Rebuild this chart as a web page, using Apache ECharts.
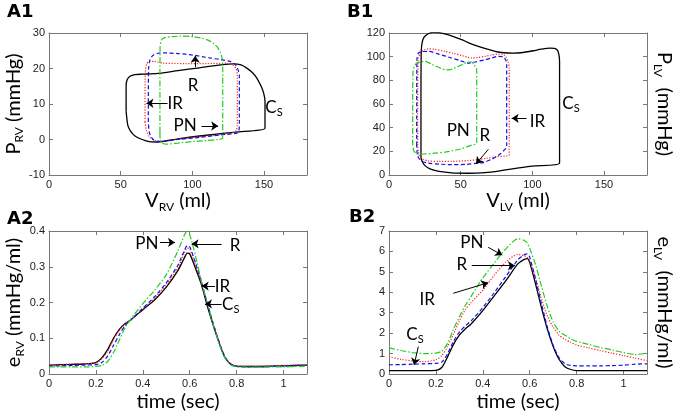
<!DOCTYPE html>
<html><head><meta charset="utf-8">
<script src="https://cdn.jsdelivr.net/npm/echarts/dist/echarts.min.js"></script>
<style>html,body{margin:0;padding:0;background:#fff}#c{width:685px;height:414px}</style>
</head><body><div id="c"></div><script>
// ---------- Panel A1 : RV pressure-volume loops ----------
const A1_CS_V = [53.8,53.8,54.5,56.5,60,65,76,90,105,120,128.6,134,138,142,145,148,149.8,150.7,150.7,150.7,130,110,90,76,70,65,60,57,55,53.8];
const A1_CS_P = [8,15,16.8,17.8,18.3,18.4,18.6,19.4,20.2,21,21.3,21,20.1,18.8,17.3,15,13,10.8,6,3.2,2.1,1.2,0.2,-0.7,-0.6,0,1,2.3,4,8];
const A1_R_V = [67,67,67.2,68.2,70,73,80,95,110,124,128,130.5,131.4,131.4,130.5,127.4,115,100,88,79.8,74,70,68,67];
const A1_R_P = [5,12,19,21.3,22,22,21.5,21.4,21.4,21.5,21,20,18,4,2.5,1.8,1.2,0.6,0,-0.5,-0.3,0.8,2.5,5];
const A1_IR_V = [69.3,69.3,69.5,70.5,72.5,76,80,90,100,112,120,126.3,129.5,131.5,132.8,132.8,132.5,131,120,105,90,80,75,72,70,69.3];
const A1_IR_P = [5,12,20,22.5,23.7,24.3,24.4,24.2,23.8,23,22.5,22,21.3,20.1,18,5,2.5,1.8,1.3,0.6,0,-0.5,-0.5,0.3,2,5];
const A1_PN_V = [77.4,77.4,77.5,78.6,81,86,92,100,106,111,115,117.5,119.5,120.7,121.2,121.2,121,118,110,100,90,82,79,77.6,77.4];
const A1_PN_P = [2,12,26,28.1,28.7,29,29.1,29,28.6,28,27,26,24.6,23,20,1,0.3,0,-0.3,-0.6,-1.0,-1.3,-1,0,2];
// ---------- Panel B1 : LV pressure-volume loops ----------
const B1_CS_V = [22.3,22.3,22.5,23.3,24.5,26.3,28.5,31,35,39,45,50.7,56,62.3,68,74,80,86.7,92,100.7,106,112.3,115.5,117.5,118.5,119,119,100,85,77.4,67,55,43.7,35,29,25.5,23.3,22.3];
const B1_CS_P = [15,60,105,112.9,116.5,118.6,120,120.6,120.3,119.2,117,114.4,111.5,108.7,106.5,104.5,103.3,103,103.3,105,106.3,107.3,107,105.5,102,96,10.1,7.5,5,3.5,2,1.5,1.8,3,5,7.5,11,15];
const B1_R_V = [20,20,20.3,21.5,22.8,25,27.4,32,38.9,45,50.7,55,57.7,62,67,72,76.3,79.5,81.5,83,83.9,83.9,75,68,62.3,55,43.7,35,27.4,23.5,21.2,20];
const B1_R_P = [25,60,98,102,104.5,106,106.7,106.2,104.5,102.8,101,99.5,98.9,99.3,100.3,101.5,102.2,102,100,96,90,17.2,15.5,14.2,13,12.2,11.5,11.5,12,13.5,16,25];
const B1_IR_V = [19.3,19.3,19.5,20.5,23,27.4,35,43.7,50,55.3,60,67,72,76.3,79.5,81.5,82.1,82.1,80,77,72,65.7,62.3,54,43.7,35,27.4,22.5,20,19.3];
const B1_IR_P = [25,60,98,103,104.3,104.5,102,98.9,96.5,94.6,95.5,97.4,99,100.3,100,97,93,24.2,20.5,17.2,13.5,10.5,10.1,9,8.7,9.2,10.1,12,16,25];
const B1_PN_V = [16.5,16.5,16.8,18,19.3,22,25.1,30,36.8,40,42.6,45,48.4,52,55.3,57.5,59.5,61.2,61.2,61.2,57,50,40,32,25,20.5,17.5,16.5];
const B1_PN_P = [25,60,88,92.5,94.6,95.5,96.1,93.5,89.8,88.8,89,90,91.8,93.8,95.5,95.5,93,89,60,27,25,22,19.5,18.5,17.8,17.7,20,25];
// ---------- Panels A2 / B2 : elastance vs time ----------
const TIME = [0,0.05,0.1,0.15,0.2,0.225,0.25,0.275,0.3,0.325,0.35,0.4,0.45,0.5,0.55,0.575,0.59,0.6,0.625,0.65,0.675,0.7,0.725,0.75,0.775,0.8,0.85,0.9,0.95,1.0,1.05,1.1];
const A2_CS = [0.025,0.026,0.027,0.028,0.032,0.045,0.068,0.1,0.125,0.141,0.152,0.18,0.207,0.243,0.29,0.322,0.338,0.336,0.295,0.25,0.19,0.137,0.088,0.046,0.028,0.022,0.021,0.021,0.022,0.023,0.024,0.025];
const A2_R = [0.026,0.027,0.028,0.029,0.031,0.042,0.064,0.096,0.122,0.14,0.153,0.182,0.212,0.25,0.298,0.335,0.352,0.35,0.305,0.255,0.195,0.14,0.09,0.048,0.028,0.022,0.022,0.022,0.023,0.024,0.025,0.026];
const A2_IR = [0.022,0.023,0.024,0.025,0.026,0.032,0.05,0.08,0.11,0.136,0.152,0.184,0.216,0.255,0.305,0.342,0.359,0.356,0.31,0.258,0.197,0.142,0.09,0.048,0.027,0.021,0.02,0.02,0.021,0.022,0.023,0.024];
const A2_PN = [0.02,0.02,0.02,0.02,0.021,0.024,0.035,0.06,0.095,0.13,0.155,0.197,0.234,0.278,0.345,0.385,0.402,0.39,0.33,0.258,0.2,0.14,0.085,0.045,0.025,0.02,0.019,0.019,0.02,0.02,0.021,0.022];
const B2_CS = [0.17,0.17,0.17,0.17,0.18,0.32,0.85,1.45,1.9,2.2,2.45,3.1,3.85,4.6,5.4,5.6,5.65,5.45,4.4,3.25,2.2,1.35,0.72,0.36,0.22,0.17,0.17,0.17,0.17,0.17,0.17,0.17];
const B2_R = [0.85,0.72,0.64,0.6,0.7,0.9,1.35,1.95,2.6,3.15,3.5,4.1,4.85,5.5,5.85,5.8,5.7,5.55,4.7,3.7,2.85,2.3,1.9,1.7,1.55,1.42,1.28,1.15,1.02,0.9,0.78,0.65];
const B2_IR = [0.45,0.46,0.48,0.5,0.52,0.58,1.0,1.6,2.05,2.35,2.6,3.25,4.0,4.8,5.6,5.82,5.88,5.72,4.62,3.45,2.3,1.4,0.8,0.5,0.42,0.4,0.4,0.4,0.41,0.43,0.48,0.5];
const B2_PN = [1.28,1.15,1.05,1.0,1.02,1.12,1.5,2.2,2.8,3.35,3.8,4.7,5.45,6.15,6.62,6.55,6.4,6.15,5.35,4.3,3.3,2.55,2.1,1.9,1.72,1.6,1.45,1.3,1.18,1.05,0.95,1.02];
// ---------- text ----------
const PANEL_LABELS = ['A1','B1','A2','B2'];
const X_NAMES = ['{n|V}{t|RV}{n| (ml)}','{n|V}{t|LV}{n| (ml)}','{n|time (sec)}','{n|time (sec)}'];
const Y_NAMES = ['{n|P}{t|RV}{n| (mmHg)}','{n|P}{t|LV}{n|  (mmHg)}','{n|e}{t|RV}{n| (mmHg/ml)}','{n|e}{t|LV}{n|  (mmHg/ml)}'];

const zip = (a,b) => a.map((v,i)=>[v,b[i]]);
const FONT = 'Lato, "Open Sans", sans-serif';
const TICKF = '"Liberation Sans", Arial, sans-serif';
const rich = {
  m:{fontSize:17,fontFamily:FONT,color:'#000',lineHeight:20},
  s:{fontSize:11,fontFamily:FONT,color:'#000',lineHeight:10,verticalAlign:'bottom'},
  n:{fontSize:20,fontFamily:FONT,color:'#000',lineHeight:24},
  t:{fontSize:12,fontFamily:FONT,color:'#000',lineHeight:12,verticalAlign:'bottom'}
};
const GREEN='#22cc22', RED='#ff2020', BLUE='#1010ee', BLACK='#000';
const styles = {
  cs:{color:BLACK,width:1.3,type:'solid'},
  r:{color:RED,width:1.2,type:[1.2,1.6]},
  ir:{color:BLUE,width:1.2,type:[4,2.5]},
  pn:{color:GREEN,width:1.2,type:[6,2,1.5,2]}
};
const grids = [
  {left:49,top:33,width:258,height:142},
  {left:389,top:33,width:258,height:142},
  {left:49,top:231,width:258,height:143},
  {left:389,top:231,width:258,height:143}
];
const xr = [[0,180,50],[0,180,50],[0,1.1,0.2],[0,1.1,0.2]];
const yr = [[-10,30,10],[0,120,20],[0,0.4,0.1],[0,7,1]];
const xGap = [13,13,16,16];
const AX = '#777';
const xAxis=[], yAxis=[];
grids.forEach((g,i)=>{
  const [x0,x1,xi]=xr[i], [y0,y1,yi]=yr[i];
  const base = {gridIndex:i,type:'value',splitLine:{show:false},
    axisLine:{show:true,onZero:false,lineStyle:{color:AX,width:1}},
    axisTick:{show:true,inside:true,length:4,lineStyle:{color:AX}}};
  xAxis.push(Object.assign({},base,{position:'bottom',min:x0,max:x1,interval:xi,
    axisLabel:{margin:4,fontSize:11,color:'#222',fontFamily:TICKF,showMaxLabel:false},
    name:X_NAMES[i],nameLocation:'middle',nameGap:xGap[i],nameTextStyle:{rich}}));
  xAxis.push(Object.assign({},base,{position:'top',min:x0,max:x1,interval:xi,axisLabel:{show:false}}));
  const rightName = (i===1||i===3);
  yAxis.push(Object.assign({},base,{position:'left',min:y0,max:y1,interval:yi,
    axisLabel:{margin:4,fontSize:11,color:'#222',fontFamily:TICKF},
    name: rightName?'':Y_NAMES[i],nameLocation:'middle',nameGap:19,nameRotate:90,nameTextStyle:{rich}}));
  yAxis.push(Object.assign({},base,{position:'right',min:y0,max:y1,interval:yi,axisLabel:{show:false},
    name: rightName?Y_NAMES[i]:'',nameLocation:'middle',nameGap:5,nameRotate:-90,nameTextStyle:{rich}}));
});

function ln(gi,data,st,extra){
  return Object.assign({type:'line',xAxisIndex:2*gi,yAxisIndex:2*gi,data,symbol:'none',showSymbol:false,
    smooth:0.25,lineStyle:st,silent:true,animation:false,z:2},extra||{});
}
function ann(arrows,texts){
  return {
    markLine:{silent:true,symbol:['none','arrow'],symbolSize:7,animation:false,
      lineStyle:{color:'#000',width:1,type:'solid'},label:{show:false},
      data:arrows.map(a=>[{coord:[a[0],a[1]]},{coord:[a[2],a[3]]}])},
    markPoint:{silent:true,symbol:'circle',symbolSize:0,animation:false,
      label:{show:true,position:'inside',rich},
      data:texts.map(t=>({coord:[t[0],t[1]],value:0,label:{formatter:t[2]}}))}
  };
}
// annotation anchors (data coordinates)
const A1_ARROWS = [[102,20.4,102,23.6],[82.7,10.2,68,10.2],[106.4,3.8,118,3.8]];
const A1_TEXTS = [[100.6,15.3,'{m|R}'],[88,10.1,'{m|IR}'],[95,3.8,'{m|PN}'],[157,9,'{m|C}{s|S}']];
const B1_ARROWS = [[96,47.9,85.6,47.9],[69.3,21.7,60.7,9.3]];
const B1_TEXTS = [[48.3,38,'{m|PN}'],[66.9,33.7,'{m|R}'],[103.5,45,'{m|IR}'],[127,60.4,'{m|C}{s|S}']];
const A2_ARROWS = [[0.473,0.368,0.537,0.368],[0.736,0.364,0.608,0.364],[0.708,0.246,0.651,0.246],[0.736,0.196,0.665,0.196]];
const A2_TEXTS = [[0.417,0.366,'{m|PN}'],[0.793,0.358,'{m|R}'],[0.74,0.246,'{m|IR}'],[0.775,0.193,'{m|C}{s|S}']];
const B2_ARROWS = [[0.423,6.2,0.483,5.82],[0.353,5.3,0.537,5.3],[0.274,3.95,0.423,4.47],[0.125,1.34,0.107,0.44]];
const B2_TEXTS = [[0.353,6.43,'{m|PN}'],[0.31,5.34,'{m|R}'],[0.163,3.67,'{m|IR}'],[0.111,1.91,'{m|C}{s|S}']];

const series = [
  ln(0,zip(A1_CS_V,A1_CS_P),styles.cs,ann(A1_ARROWS,A1_TEXTS)),
  ln(0,zip(A1_R_V,A1_R_P),styles.r),
  ln(0,zip(A1_IR_V,A1_IR_P),styles.ir),
  ln(0,zip(A1_PN_V,A1_PN_P),styles.pn),
  ln(1,zip(B1_CS_V,B1_CS_P),styles.cs,ann(B1_ARROWS,B1_TEXTS)),
  ln(1,zip(B1_R_V,B1_R_P),styles.r),
  ln(1,zip(B1_IR_V,B1_IR_P),styles.ir),
  ln(1,zip(B1_PN_V,B1_PN_P),styles.pn),
  ln(2,zip(TIME,A2_CS),styles.cs,ann(A2_ARROWS,A2_TEXTS)),
  ln(2,zip(TIME,A2_R),styles.r),
  ln(2,zip(TIME,A2_IR),styles.ir),
  ln(2,zip(TIME,A2_PN),styles.pn),
  ln(3,zip(TIME,B2_CS),styles.cs,ann(B2_ARROWS,B2_TEXTS)),
  ln(3,zip(TIME,B2_R),styles.r),
  ln(3,zip(TIME,B2_IR),styles.ir),
  ln(3,zip(TIME,B2_PN),styles.pn)
];
const titlePos = [[7,3],[347,3],[7,210],[349,208]];
const title = PANEL_LABELS.map((t,i)=>({text:t,left:titlePos[i][0],top:titlePos[i][1],padding:0,
  textStyle:{fontFamily:'"DejaVu Sans", sans-serif',fontWeight:'bold',fontSize:18,color:'#000'}}));

const chart = echarts.init(document.getElementById('c'),null,{renderer:'canvas'});
chart.setOption({animation:false,backgroundColor:'#fff',title,grid:grids,xAxis,yAxis,series});
</script></body></html>
